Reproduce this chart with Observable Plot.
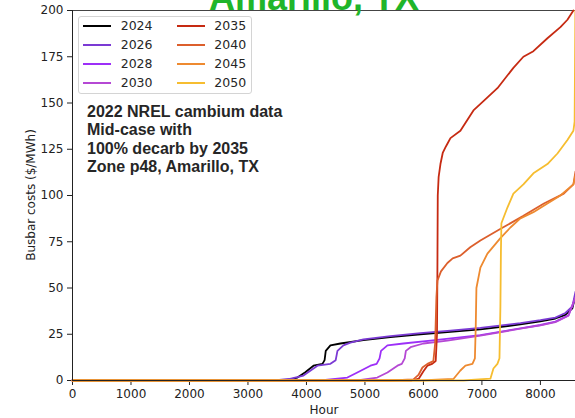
<!DOCTYPE html>
<html>
<head>
<meta charset="utf-8">
<script src="https://cdn.jsdelivr.net/npm/d3@7"></script>
<script src="https://cdn.jsdelivr.net/npm/@observablehq/plot@0.6"></script>
<style>
  html, body { margin: 0; padding: 0; background: #fff; overflow: hidden; }
  #wrap { position: relative; width: 575px; height: 418px; overflow: hidden; background: #fff; }
  #wrap svg { position: absolute; left: 0; top: 0; }
  .ov { position: absolute; white-space: nowrap; }
</style>
</head>
<body>
<div id="wrap"></div>
<script>
// ---- data ----
const titleText = "Amarillo, TX";
const annotLines = ["2022 NREL cambium data", "Mid-case with", "100% decarb by 2035", "Zone p48, Amarillo, TX"];
const xLabel = "Hour";
const yLabel = "Busbar costs ($/MWh)";
const xTicks = [0, 1000, 2000, 3000, 4000, 5000, 6000, 7000, 8000];
const yTicks = [0, 25, 50, 75, 100, 125, 150, 175, 200];
const years = ["2024", "2026", "2028", "2030", "2035", "2040", "2045", "2050"];
const colors = ["#000000", "#7b3ad4", "#9d2ff8", "#b548d4", "#c62a12", "#dc5f2c", "#ee8a30", "#f6bd30"];

// [hour (sorted rank), $/MWh]
const s2024 = [[0,0],[3640,0],[3846,1.6],[3980,4.5],[4120,8],[4274,9],[4310,11],[4330,16],[4410,19],[4581,20],[4974,21.8],[5436,23.5],[5949,25],[6462,26.3],[6974,27.6],[7658,30.3],[8000,32],[8256,33.5],[8427,35.5],[8547,39],[8600,46]];
const s2026 = [[0,0],[3450,0],[3700,0.8],[3949,2.7],[4188,8],[4410,9],[4500,11],[4530,16],[4632,19],[4752,20.5],[4974,22.2],[5436,24],[5949,25.6],[6462,27],[6974,28.4],[7658,31],[8000,32.6],[8256,34],[8427,36.5],[8547,40],[8600,48]];
const s2028 = [[0,0],[4240,0],[4700,1.6],[4870,4.3],[5094,8],[5200,9],[5250,12],[5275,16],[5385,19],[5658,20],[6120,21.6],[6974,24.5],[7658,28.2],[8000,30],[8256,31.8],[8479,35.2],[8600,45]];
const s2030 = [[0,0],[4870,0],[5210,1.6],[5385,4.3],[5556,8],[5630,9],[5680,12],[5700,16],[5780,18],[6000,20],[6410,21.6],[6974,24.3],[7658,28],[8000,29.8],[8256,31.5],[8479,35],[8600,45]];
const s2035 = [[0,0],[5800,0],[5920,1],[6000,5],[6068,8],[6150,9],[6210,10.5],[6232,25],[6239,60],[6245,100],[6260,110],[6291,117],[6330,123],[6376,126],[6410,128],[6462,131],[6632,135],[6855,146],[7026,151],[7265,158],[7538,169],[7709,175],[7880,178],[8120,185],[8342,191],[8462,195],[8564,200]];
const s2040 = [[0,0],[5436,0],[5829,0.6],[5915,3],[5983,7],[6068,9],[6170,10.5],[6200,20],[6222,45],[6239,54],[6300,59],[6410,63.5],[6500,66],[6632,67.5],[6800,72],[6974,75.7],[7320,82],[7709,89],[8060,95.7],[8400,101],[8564,106],[8600,113]];
const s2045 = [[0,0],[5949,0],[6513,0.8],[6632,5.4],[6718,8],[6838,9],[6880,12],[6895,30],[6906,50],[6974,61],[7094,68.6],[7316,77],[7487,82.7],[7658,87.6],[7880,91],[8120,95.7],[8342,100],[8564,106],[8600,111]];
const s2050 = [[0,0],[6684,0],[7145,1],[7197,6.5],[7265,9],[7300,12],[7316,40],[7325,70],[7333,85],[7436,93.5],[7538,101],[7709,106],[7880,112],[8120,117],[8291,122.7],[8462,130],[8564,135],[8585,140],[8598,200]];

const seriesList = [s2024, s2026, s2028, s2030, s2035, s2040, s2045, s2050];
const data = years.flatMap((yr, i) => seriesList[i].map(([h, v]) => ({year: yr, hour: h, value: v})));

// ---- chart ----
const chart = Plot.plot({
  width: 575,
  height: 418,
  marginLeft: 72,
  marginRight: 0,
  marginTop: 10,
  marginBottom: 38,
  style: {fontFamily: "DejaVu Sans", fontSize: "12px", color: "#222", background: "transparent", overflow: "visible"},
  x: {domain: [0, 8600], ticks: xTicks, tickFormat: d3.format("d"), tickSize: 5, tickPadding: 4, label: null},
  y: {domain: [0, 200], ticks: yTicks, tickSize: 5, tickPadding: 4, label: null},
  color: {domain: years, range: colors},
  marks: [
    Plot.ruleY([200], {stroke: "#444", strokeWidth: 1}),
    Plot.line(data, {x: "hour", y: "value", z: "year", stroke: "year", strokeWidth: 1.8, strokeLinejoin: "round"}),
    Plot.ruleX([0], {stroke: "#222", strokeWidth: 1}),
    Plot.ruleY([0], {stroke: "#222", strokeWidth: 1})
  ]
});

const wrap = document.getElementById("wrap");
wrap.appendChild(chart);

// axis labels
const svg = d3.select(chart);
svg.append("text").text(yLabel)
  .attr("x", 35).attr("y", 195)
  .attr("transform", "rotate(-90,35,195)")
  .attr("text-anchor", "middle")
  .attr("fill", "#222")
  .style("font", "12px 'DejaVu Sans'");
svg.append("text").text(xLabel)
  .attr("x", 324).attr("y", 414)
  .attr("text-anchor", "middle")
  .attr("fill", "#222")
  .style("font", "12px 'DejaVu Sans'");

// title
const title = document.createElement("div");
title.className = "ov";
title.textContent = titleText;
Object.assign(title.style, {left: "0px", width: "628px", textAlign: "center", top: "-20.5px",
  font: "bold 36px 'Liberation Sans', Arial, sans-serif", lineHeight: "36px", color: "#1fb52a"});
wrap.appendChild(title);

// annotation
const ann = document.createElement("div");
ann.className = "ov";
Object.assign(ann.style, {left: "87px", top: "102.5px", font: "bold 16px 'Liberation Sans', Arial, sans-serif",
  lineHeight: "18.5px", color: "#262626"});
annotLines.forEach(t => { const d = document.createElement("div"); d.textContent = t; ann.appendChild(d); });
wrap.appendChild(ann);

// legend
const leg = document.createElement("div");
Object.assign(leg.style, {position: "absolute", left: "78px", top: "16px", width: "174px", height: "78px",
  boxSizing: "border-box", border: "1px solid #d4d4d4", borderRadius: "3px", background: "rgba(255,255,255,0.8)"});
wrap.appendChild(leg);
years.forEach((yr, i) => {
  const col = Math.floor(i / 4), row = i % 4;
  const cy = 26 + row * 18.9;
  const ln = document.createElement("div");
  Object.assign(ln.style, {position: "absolute", left: (82.5 + col * 94.3) + "px", top: (cy - 1) + "px",
    width: "28px", height: "2px", background: colors[i]});
  wrap.appendChild(ln);
  const tx = document.createElement("div");
  tx.className = "ov";
  tx.textContent = yr;
  Object.assign(tx.style, {left: (120.7 + col * 93.6) + "px", top: (cy - 6) + "px",
    font: "12.5px 'DejaVu Sans'", lineHeight: "12.5px", color: "#262626"});
  wrap.appendChild(tx);
});
</script>
</body>
</html>
